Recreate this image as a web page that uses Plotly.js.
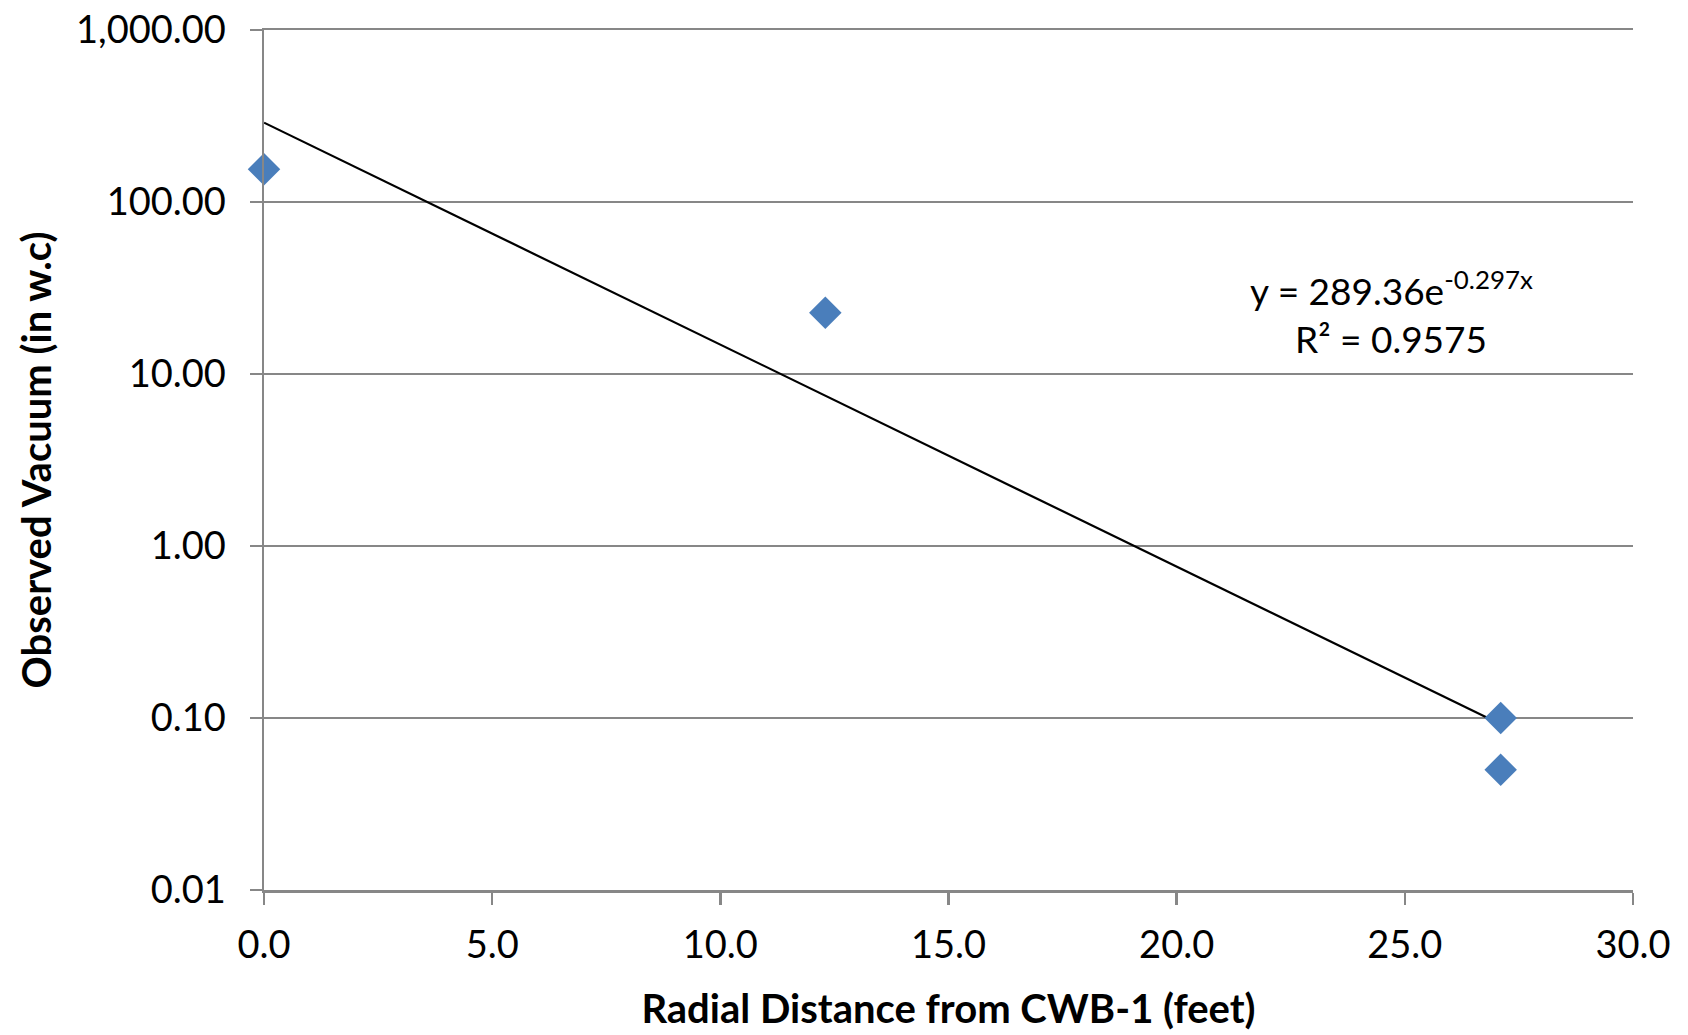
<!DOCTYPE html>
<html><head><meta charset="utf-8">
<script src="https://cdn.plot.ly/plotly-3.0.1.min.js"></script>
<style>html,body{margin:0;padding:0;background:#fff}#chart{width:1688px;height:1035px}</style>
</head><body><div id="chart"></div>
<script>
const distance = [0.0, 12.3, 27.1, 27.1];
const vacuum = [155, 22.7, 0.10, 0.05];
const trendX = [0.0, 27.1];
const trendY = [289.36, 0.092];
const yTickVals = [0.01, 0.1, 1, 10, 100, 1000];
const yTickText = ["0.01", "0.10", "1.00", "10.00", "100.00", "1,000.00"];
const xTickVals = [0, 5, 10, 15, 20, 25, 30];
const xTickText = ["0.0", "5.0", "10.0", "15.0", "20.0", "25.0", "30.0"];

const font = "Lato, 'Open Sans', sans-serif";
const data = [
  {x: trendX, y: trendY, type: 'scatter', mode: 'lines', line: {color: '#000', width: 2.2}, hoverinfo: 'skip'},
  {x: distance, y: vacuum, type: 'scatter', mode: 'markers', marker: {symbol: 'diamond', size: 25, color: '#4A7EBB'}, cliponaxis: false}
];
const layout = {
  width: 1688, height: 1035, showlegend: false,
  margin: {l: 264, r: 55, t: 30, b: 145},
  paper_bgcolor: '#fff', plot_bgcolor: '#fff',
  font: {family: font, color: '#000', size: 38},
  xaxis: {
    range: [0, 30], tickvals: xTickVals, ticktext: xTickText,
    showgrid: false, zeroline: false, showline: true, mirror: true, linecolor: '#878787', linewidth: 2.5,
    ticks: 'outside', ticklen: 12, tickwidth: 2.5, tickcolor: '#878787',
    tickfont: {size: 38, family: font}, ticklabelstandoff: 8,
    title: {text: '<b>Radial Distance from CWB-1 (feet)</b>', font: {size: 40, family: font}, standoff: 30}
  },
  yaxis: {
    type: 'log', range: [-2, 3], tickvals: yTickVals, ticktext: yTickText,
    showgrid: true, gridcolor: '#878787', gridwidth: 2.5, zeroline: false,
    showline: true, linecolor: '#878787', linewidth: 2.5,
    ticks: 'outside', ticklen: 12, tickwidth: 2.5, tickcolor: '#878787',
    tickfont: {size: 38, family: font}, ticklabelstandoff: 16,
    title: {text: '<b>Observed Vacuum (in w.c)</b>', font: {size: 40, family: font}, standoff: 12}
  },
  annotations: [
    {xref: 'paper', yref: 'paper', x: (1391-264)/(1633-264), y: (890-288)/860, text: 'y = 289.36e<sup>-0.297x</sup>', showarrow: false, font: {size: 37, family: font}, xanchor: 'center', yanchor: 'middle'},
    {xref: 'paper', yref: 'paper', x: (1391-264)/(1633-264), y: (890-339)/860, text: 'R² = 0.9575', showarrow: false, font: {size: 37, family: font}, xanchor: 'center', yanchor: 'middle'}
  ]
};
Plotly.newPlot('chart', data, layout, {displayModeBar: false, staticPlot: true});
</script></body></html>
